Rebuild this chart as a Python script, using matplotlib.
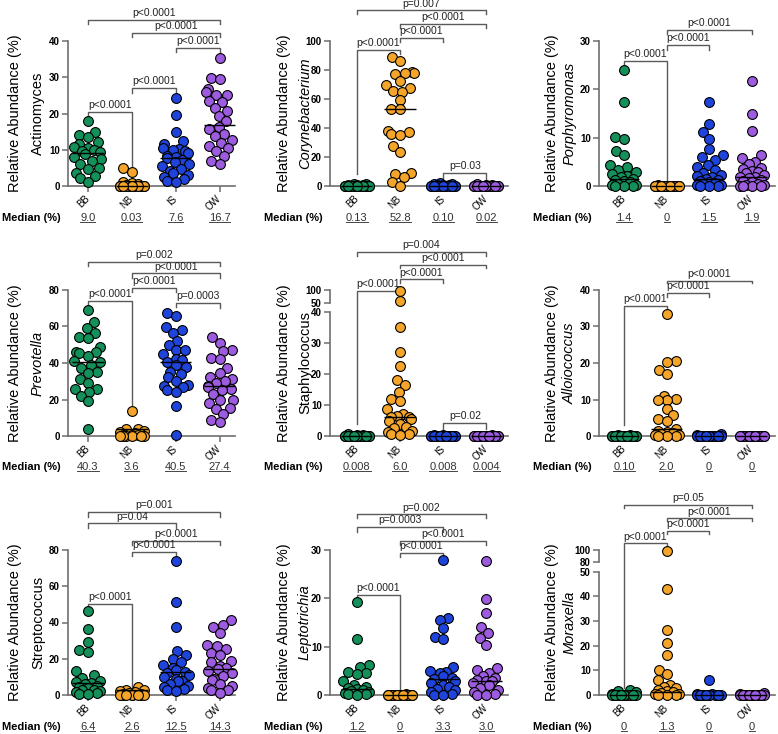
import numpy as np
import matplotlib
matplotlib.use('Agg')
import matplotlib.pyplot as plt
from matplotlib.lines import Line2D

plt.rcParams['font.family'] = ['Liberation Sans', 'DejaVu Sans']

W, H = 778, 734

GROUPS = ['BB', 'NB', 'IS', 'OW']
COLORS = ['#14905a', '#f5a52a', '#1f44dc', '#9d5ce0']

GENERA = ['Actinomyces', 'Corynebacterium', 'Porphyromonas',
          'Prevotella', 'Staphylococcus', 'Alloiococcus',
          'Streptococcus', 'Leptotrichia', 'Moraxella']
ITALIC = [False, True, True, True, False, True, False, True, True]

# --- relative abundance values (%) ---
ACT_BB = [18.0, 14.8, 14.2, 13.4, 12.2, 11.6, 10.8, 10.4, 10.0, 9.6, 9.3, 8.7, 8.0,
          7.5, 7.0, 6.2, 5.0, 4.8, 3.6, 2.8, 2.2, 1.2]
ACT_NB = [5.0, 4.0, 1.2, 0.9, 0.6, 0.3, 0.1, 0.05, 0.03, 0.02, 0.01, 0.0, 0.0, 0.0,
          0.0, 0.0, 0.0, 0.0, 0.0, 0.0]
ACT_IS = [24.4, 19.7, 15.0, 12.4, 11.6, 10.6, 10.3, 10.0, 9.6, 9.0, 8.3, 8.0, 7.6,
          7.2, 6.6, 6.0, 5.4, 4.8, 4.2, 3.6, 3.0, 2.6, 2.0, 1.4, 1.2]
ACT_OW = [35.4, 29.8, 29.6, 26.8, 25.8, 25.2, 25.0, 23.4, 23.2, 21.6, 20.8, 19.4,
          17.8, 16.4, 15.6, 14.4, 13.8, 12.6, 11.8, 11.0, 10.4, 9.6, 8.2, 7.0, 6.0]

COR_BB = [1.6, 1.2, 1.0, 0.8, 0.5, 0.3, 0.2, 0.13, 0.1, 0.05, 0.02, 0.0, 0.0, 0.0,
          0.0, 0.0, 0.0, 0.0, 0.0, 0.0]
COR_NB = [89.0, 86.0, 78.5, 78.0, 77.8, 77.5, 72.5, 69.5, 67.5, 65.5, 65.0, 59.0,
          53.0, 52.8, 38.0, 37.0, 36.0, 35.0, 27.5, 23.5, 9.0, 8.5, 6.0, 2.5, 0.3]
COR_IS = [2.0, 1.5, 1.2, 1.0, 0.8, 0.5, 0.3, 0.2, 0.1, 0.05, 0.0, 0.0, 0.0, 0.0,
          0.0, 0.0, 0.0, 0.0, 0.0, 0.0]
COR_OW = [1.2, 0.8, 0.5, 0.3, 0.1, 0.05, 0.02, 0.0, 0.0, 0.0, 0.0, 0.0, 0.0, 0.0,
          0.0, 0.0, 0.0, 0.0]

POR_BB = [24.0, 17.3, 10.2, 9.8, 7.2, 6.4, 4.4, 3.9, 3.4, 2.8, 2.4, 2.0, 1.8, 1.4,
          1.2, 1.0, 0.8, 0.5, 0.3, 0.2, 0.1, 0.0, 0.0]
POR_NB = [0.2, 0.1, 0.05, 0.0, 0.0, 0.0, 0.0, 0.0, 0.0, 0.0, 0.0, 0.0, 0.0, 0.0,
          0.0, 0.0, 0.0, 0.0]
POR_IS = [17.3, 12.9, 11.1, 9.8, 7.7, 6.4, 5.9, 5.3, 4.4, 4.0, 3.4, 2.6, 2.2, 2.0,
          1.8, 1.5, 1.2, 1.0, 0.8, 0.6, 0.4, 0.3, 0.2, 0.1, 0.0, 0.0]
POR_OW = [21.7, 15.0, 11.4, 6.4, 5.7, 5.0, 4.5, 3.8, 3.5, 3.2, 3.0, 2.6, 2.2, 1.9,
          1.8, 1.6, 1.2, 1.0, 0.8, 0.5, 0.3, 0.2, 0.1, 0.0, 0.0, 0.0]

PRE_BB = [69.0, 62.5, 59.0, 56.5, 54.0, 53.5, 48.5, 46.0, 46.0, 45.5, 44.0, 41.0,
          40.3, 39.0, 37.5, 35.0, 34.5, 31.0, 29.0, 26.0, 25.5, 24.0, 22.0, 19.0, 4.0]
PRE_NB = [13.5, 4.0, 3.6, 3.0, 2.0, 1.5, 1.2, 1.0, 0.8, 0.5, 0.3, 0.2, 0.1, 0.0,
          0.0, 0.0, 0.0]
PRE_IS = [67.5, 65.5, 59.5, 58.0, 56.5, 52.0, 50.0, 47.0, 47.0, 45.0, 42.0, 41.5,
          40.5, 39.0, 38.0, 35.0, 34.0, 32.5, 30.0, 28.0, 27.5, 27.0, 25.0, 24.0,
          16.5, 0.5]
PRE_OW = [54.0, 51.0, 47.0, 46.5, 43.0, 42.0, 37.0, 34.5, 32.5, 31.5, 30.0, 29.0,
          27.5, 27.0, 26.0, 25.0, 23.0, 20.0, 19.5, 18.0, 15.5, 15.0, 12.0, 9.0, 7.5]

STA_BB = [0.5, 0.3, 0.2, 0.1, 0.05, 0.02, 0.008, 0.0, 0.0, 0.0, 0.0, 0.0, 0.0, 0.0,
          0.0, 0.0, 0.0, 0.0]
STA_NB = [98.0, 57.0, 35.2, 27.3, 22.5, 18.2, 16.5, 14.2, 12.0, 11.3, 8.6, 7.0, 6.5,
          6.2, 6.0, 5.5, 5.0, 3.8, 3.0, 2.5, 1.5, 1.2, 0.8, 0.5, 0.3]
STA_IS = [0.3, 0.2, 0.1, 0.05, 0.01, 0.008, 0.0, 0.0, 0.0, 0.0, 0.0, 0.0, 0.0, 0.0,
          0.0, 0.0, 0.0, 0.0]
STA_OW = [0.2, 0.1, 0.05, 0.004, 0.0, 0.0, 0.0, 0.0, 0.0, 0.0, 0.0, 0.0, 0.0, 0.0,
          0.0, 0.0]

ALL_BB = [0.4, 0.2, 0.1, 0.05, 0.0, 0.0, 0.0, 0.0, 0.0, 0.0, 0.0, 0.0, 0.0, 0.0,
          0.0, 0.0]
ALL_NB = [33.5, 20.5, 20.2, 18.2, 17.0, 11.0, 10.2, 10.0, 10.0, 7.5, 5.8, 4.6, 4.2,
          2.0, 1.5, 1.0, 0.8, 0.5, 0.3, 0.2, 0.1, 0.0, 0.0]
ALL_IS = [0.6, 0.3, 0.1, 0.0, 0.0, 0.0, 0.0, 0.0, 0.0, 0.0, 0.0, 0.0, 0.0, 0.0]
ALL_OW = [0.0, 0.0, 0.0, 0.0, 0.0, 0.0, 0.0, 0.0, 0.0, 0.0, 0.0, 0.0, 0.0, 0.0]

STR_BB = [46.5, 36.5, 29.0, 25.0, 23.5, 13.5, 11.0, 9.5, 8.0, 7.0, 6.4, 6.0, 5.0,
          4.5, 4.0, 3.0, 2.5, 2.0, 1.5, 1.0, 0.5, 0.3]
STR_NB = [4.5, 3.0, 2.6, 2.0, 1.5, 1.0, 0.5, 0.3, 0.1, 0.0, 0.0, 0.0, 0.0, 0.0,
          0.0, 0.0]
STR_IS = [74.0, 51.5, 37.5, 24.5, 22.0, 20.0, 18.0, 16.5, 15.0, 14.0, 12.5, 12.0,
          11.0, 10.0, 9.0, 8.0, 7.5, 6.0, 5.0, 4.5, 3.5, 3.0, 2.0]
STR_OW = [41.5, 38.5, 37.5, 34.0, 27.5, 27.0, 25.5, 23.0, 22.0, 19.0, 18.0, 16.0,
          15.0, 14.3, 13.0, 12.0, 10.5, 9.0, 8.5, 6.0, 5.0, 4.0, 3.0, 2.5, 1.0]

LEP_BB = [19.2, 11.5, 6.2, 5.8, 4.8, 4.5, 4.3, 3.0, 2.0, 1.6, 1.4, 1.2, 1.0, 0.8,
          0.6, 0.5, 0.3, 0.2, 0.1]
LEP_NB = [0.2, 0.1, 0.0, 0.0, 0.0, 0.0, 0.0, 0.0, 0.0, 0.0, 0.0, 0.0, 0.0, 0.0,
          0.0, 0.0]
LEP_IS = [27.9, 16.0, 15.5, 13.8, 12.1, 11.5, 5.8, 4.9, 4.7, 4.5, 4.0, 3.5, 3.3,
          3.0, 2.5, 2.0, 1.6, 1.2, 1.0, 0.6, 0.3, 0.1, 0.0]
LEP_OW = [27.8, 19.8, 17.0, 14.0, 12.8, 11.8, 10.4, 5.5, 5.2, 4.5, 4.0, 3.5, 3.2,
          3.0, 2.8, 2.5, 2.0, 1.5, 1.0, 0.6, 0.3, 0.1, 0.0]

MOR_BB = [2.2, 1.5, 1.2, 0.5, 0.2, 0.0, 0.0, 0.0, 0.0, 0.0, 0.0, 0.0, 0.0, 0.0,
          0.0, 0.0]
MOR_NB = [99.0, 43.0, 26.5, 21.0, 16.3, 10.2, 8.4, 6.0, 4.2, 3.2, 2.8, 2.0, 1.5,
          1.3, 1.0, 0.6, 0.3, 0.1, 0.0, 0.0]
MOR_IS = [5.9, 0.5, 0.3, 0.0, 0.0, 0.0, 0.0, 0.0, 0.0, 0.0, 0.0, 0.0, 0.0, 0.0]
MOR_OW = [0.8, 0.5, 0.0, 0.0, 0.0, 0.0, 0.0, 0.0, 0.0, 0.0, 0.0, 0.0, 0.0, 0.0]

# medians printed under each panel
ACT_MED = ['9.0', '0.03', '7.6', '16.7']
COR_MED = ['0.13', '52.8', '0.10', '0.02']
POR_MED = ['1.4', '0', '1.5', '1.9']
PRE_MED = ['40.3', '3.6', '40.5', '27.4']
STA_MED = ['0.008', '6.0', '0.008', '0.004']
ALL_MED = ['0.10', '2.0', '0', '0']
STR_MED = ['6.4', '2.6', '12.5', '14.3']
LEP_MED = ['1.2', '0', '3.3', '3.0']
MOR_MED = ['0', '1.3', '0', '0']

ACT_YTICKS = [0, 10, 20, 30, 40]
COR_YTICKS = [0, 20, 40, 60, 80, 100]
POR_YTICKS = [0, 10, 20, 30]
PRE_YTICKS = [0, 20, 40, 60, 80]
STA_YTICKS = [0, 10, 20, 30, 40, 50, 100]
ALL_YTICKS = [0, 10, 20, 30, 40]
STR_YTICKS = [0, 20, 40, 60, 80]
LEP_YTICKS = [0, 10, 20, 30]
MOR_YTICKS = [0, 10, 20, 30, 40, 50, 80, 100]

# significance brackets: group a, group b, level, end a, end b (axes fraction), label
ACT_BR = [(0, 1, 0.51, 0.476, 0.0, 'p<0.0001'), (1, 2, 0.676, 0.644, 0.644, 'p<0.0001'),
          (2, 3, 0.952, 0.924, 0.924, 'p<0.0001'), (1, 3, 1.055, 1.028, 1.028, 'p<0.0001'),
          (0, 3, 1.147, 1.12, 1.12, 'p<0.0001')]
COR_BR = [(0, 1, 0.94, 0.085, 0.913, 'p<0.0001'), (1, 2, 1.023, 0.993, 0.993, 'p<0.0001'),
          (1, 3, 1.12, 1.09, 1.09, 'p<0.0001'), (0, 3, 1.211, 1.184, 1.184, 'p=0.007'),
          (2, 3, 0.09, 0.05, 0.05, 'p=0.03')]
POR_BR = [(0, 1, 0.862, 0.832, 0.0, 'p<0.0001'), (1, 2, 0.975, 0.94, 0.94, 'p<0.0001'),
          (1, 3, 1.078, 1.046, 1.046, 'p<0.0001')]
PRE_BR = [(0, 1, 0.924, 0.897, 0.188, 'p<0.0001'), (1, 2, 1.016, 0.984, 0.984, 'p<0.0001'),
          (2, 3, 0.913, 0.886, 0.874, 'p=0.0003'), (1, 3, 1.114, 1.085, 1.085, 'p<0.0001'),
          (0, 3, 1.194, 1.165, 1.165, 'p=0.002')]
STA_BR = [(0, 1, 0.995, 0.085, 0.966, 'p<0.0001'), (1, 2, 1.073, 1.05, 1.05, 'p<0.0001'),
          (1, 3, 1.172, 1.149, 1.149, 'p<0.0001'), (0, 3, 1.261, 1.233, 1.233, 'p=0.004'),
          (2, 3, 0.089, 0.05, 0.05, 'p=0.02')]
ALL_BR = [(0, 1, 0.89, 0.073, 0.863, 'p<0.0001'), (1, 2, 0.982, 0.954, 0.954, 'p<0.0001'),
          (1, 3, 1.064, 1.046, 1.046, 'p<0.0001')]
STR_BR = [(0, 1, 0.628, 0.598, 0.057, 'p<0.0001'), (1, 2, 0.989, 0.959, 0.959, 'p<0.0001'),
          (1, 3, 1.062, 1.034, 1.034, 'p<0.0001'), (0, 2, 1.184, 1.149, 1.149, 'p=0.04'),
          (0, 3, 1.264, 1.23, 1.23, 'p=0.001')]
LEP_BR = [(0, 1, 0.69, 0.66, 0.03, 'p<0.0001'), (1, 2, 0.982, 0.954, 0.954, 'p<0.0001'),
          (1, 3, 1.062, 1.034, 1.034, 'p<0.0001'), (0, 2, 1.161, 1.126, 1.126, 'p=0.0003'),
          (0, 3, 1.246, 1.218, 1.218, 'p=0.002')]
MOR_BR = [(0, 1, 1.046, 0.046, 1.018, 'p<0.0001'), (1, 2, 1.131, 1.108, 1.108, 'p<0.0001'),
          (1, 3, 1.218, 1.2, 1.2, 'p<0.0001'), (0, 3, 1.31, 1.287, 1.287, 'p=0.05')]

PANELS = [
    ([ACT_BB, ACT_NB, ACT_IS, ACT_OW], ACT_MED, ACT_YTICKS, ACT_BR),
    ([COR_BB, COR_NB, COR_IS, COR_OW], COR_MED, COR_YTICKS, COR_BR),
    ([POR_BB, POR_NB, POR_IS, POR_OW], POR_MED, POR_YTICKS, POR_BR),
    ([PRE_BB, PRE_NB, PRE_IS, PRE_OW], PRE_MED, PRE_YTICKS, PRE_BR),
    ([STA_BB, STA_NB, STA_IS, STA_OW], STA_MED, STA_YTICKS, STA_BR),
    ([ALL_BB, ALL_NB, ALL_IS, ALL_OW], ALL_MED, ALL_YTICKS, ALL_BR),
    ([STR_BB, STR_NB, STR_IS, STR_OW], STR_MED, STR_YTICKS, STR_BR),
    ([LEP_BB, LEP_NB, LEP_IS, LEP_OW], LEP_MED, LEP_YTICKS, LEP_BR),
    ([MOR_BB, MOR_NB, MOR_IS, MOR_OW], MOR_MED, MOR_YTICKS, MOR_BR),
]


# broken y axes (Staphylococcus 0-40 | 50-100, Moraxella 0-50 | 80-100)
def staph_fwd(y):
    y = np.asarray(y, float)
    return np.where(y <= 40, y, np.where(y <= 50, 40 + (y - 40) * 0.314, 43.14 + (y - 50) * 0.082))


def staph_inv(t):
    t = np.asarray(t, float)
    return np.where(t <= 40, t, np.where(t <= 43.14, 40 + (t - 40) / 0.314, 50 + (t - 43.14) / 0.082))


def mor_fwd(y):
    y = np.asarray(y, float)
    return np.where(y <= 50, y, np.where(y <= 80, 50 + (y - 50) * 0.126, 53.78 + (y - 80) * 0.25))


def mor_inv(t):
    t = np.asarray(t, float)
    return np.where(t <= 50, t, np.where(t <= 53.78, 50 + (t - 50) / 0.126, 80 + (t - 53.78) / 0.25))


BREAKS = {4: ((staph_fwd, staph_inv), (40, 50)), 8: ((mor_fwd, mor_inv), (50, 80))}

COL_LEFT = [68, 330, 599]
COL_RIGHT = [235, 508, 775]
COL_XLIM = [(-0.45, 3.35), (-0.62, 3.5), (-0.59, 3.55)]
COL_YLAB = [(-53, -30), (-46, -25), (-47, -29)]
ROW_TOP = [41, 290, 550]
ROW_BOT = [186, 436, 695]
ROW_MED = [218, 467, 727]

SPINE = '#6e6e6e'
BRACKET = '#5a5a5a'


def swarm(ax, xc, vals, diam=9.0, wmax=14.0):
    tr = ax.transData
    pts = np.column_stack([np.full(len(vals), float(xc)), np.asarray(vals, float)])
    ypx = tr.transform(pts)[:, 1]
    xppu = tr.transform((1, 0))[0] - tr.transform((0, 0))[0]
    order = np.argsort(ypx, kind='stable')
    spill = [-12, 12, -6, 6, 0, -9, 9, -3, 3]
    placed = []
    offs = np.zeros(len(vals))
    n_spill = 0
    for i in order:
        y = ypx[i]
        cands = [0.0]
        for px, py in placed:
            dy = abs(y - py)
            if dy < diam:
                dx = np.sqrt(diam ** 2 - dy ** 2)
                cands += [px - dx, px + dx]
        cands.sort(key=abs)
        x = None
        for c in cands:
            if abs(c) > wmax:
                continue
            if all((c - px) ** 2 + (y - py) ** 2 >= diam ** 2 - 1e-6 for px, py in placed):
                x = c
                break
        if x is None:
            x = spill[n_spill % len(spill)]
            n_spill += 1
        placed.append((x, y))
        offs[i] = x / xppu
    return xc + offs


fig = plt.figure(figsize=(W / 100, H / 100), dpi=100)
renderer = fig.canvas.get_renderer()

for k, (groups_vals, meds, yticks, brackets) in enumerate(PANELS):
    r, c = divmod(k, 3)
    left, right = COL_LEFT[c], COL_RIGHT[c]
    top, bot = ROW_TOP[r], ROW_BOT[r]
    ax = fig.add_axes([left / W, 1 - bot / H, (right - left) / W, (bot - top) / H])
    ax.set_xlim(*COL_XLIM[c])
    if k in BREAKS:
        ax.set_yscale('function', functions=BREAKS[k][0])
    ax.set_ylim(0, yticks[-1])

    for sp in ['top', 'right']:
        ax.spines[sp].set_visible(False)
    for sp in ['left', 'bottom']:
        ax.spines[sp].set_color(SPINE)
        ax.spines[sp].set_linewidth(1.2)
    if k in BREAKS:
        lo, hi = BREAKS[k][1]
        ax.spines['left'].set_visible(False)
        yt = ax.get_yaxis_transform()
        ax.plot([0, 0], [0, lo], transform=yt, color=SPINE, lw=1.2, clip_on=False)
        ax.plot([0, 0], [hi, yticks[-1]], transform=yt, color=SPINE, lw=1.2, clip_on=False)
    else:
        ax.spines['left'].set_bounds(0, yticks[-1])

    ax.set_yticks(yticks)
    ax.set_yticklabels([str(t) for t in yticks], fontsize=7, fontweight='bold')
    ax.set_xticks(range(4))
    ax.set_xticklabels(GROUPS, fontsize=7, rotation=45, ha='right', va='center',
                       rotation_mode='anchor')
    ax.tick_params(axis='both', direction='out', length=4, width=1.1, color=SPINE, pad=2)
    ax.tick_params(axis='x', pad=4)

    for g, vals in enumerate(groups_vals):
        xs = swarm(ax, g, vals)
        ax.scatter(xs, vals, s=50, color=COLORS[g], edgecolors='black', linewidths=0.8,
                   zorder=3, clip_on=False)
        m = float(meds[g])
        ax.plot([g - 0.36, g + 0.36], [m, m], color='black', lw=1.0, zorder=4,
                solid_capstyle='butt', clip_on=False)

    xt = ax.get_xaxis_transform()
    for a, b, lev, ea, eb, lab in brackets:
        ax.plot([a, a, b, b], [ea, lev, lev, eb], transform=xt, color=BRACKET, lw=1.0,
                clip_on=False, zorder=2)
        ax.annotate(lab, xy=((a + b) / 2, lev), xycoords=xt, xytext=(0, 1.2),
                    textcoords='offset points', ha='center', va='bottom',
                    fontsize=7.5, color='#222222')

    # y labels
    ymid = 1 - (top + bot) / 2 / H
    off1, off2 = COL_YLAB[c]
    fig.text((left + off1) / W, ymid, 'Relative Abundance (%)', rotation=90,
             ha='center', va='center', fontsize=10.5, color='black')
    fig.text((left + off2) / W, ymid, GENERA[k], rotation=90, ha='center', va='center',
             fontsize=10.5, color='black', style='italic' if ITALIC[k] else 'normal')

    # median row
    ymed = 1 - ROW_MED[r] / H
    fig.text((left - 7) / W, ymed, 'Median (%)', ha='right', va='center',
             fontsize=8, fontweight='bold')
    for g in range(4):
        xfig = ax.transData.transform((g, 0))[0] / W
        t = fig.text(xfig, ymed, meds[g], ha='center', va='center', fontsize=8,
                     color='#333333')
        bb = t.get_window_extent(renderer)
        uy = (bb.y0 + 1.5) / H
        fig.add_artist(Line2D([bb.x0 / W, bb.x1 / W], [uy, uy], transform=fig.transFigure,
                              color='#444444', lw=0.7))

fig.savefig('out.png', dpi=100)
